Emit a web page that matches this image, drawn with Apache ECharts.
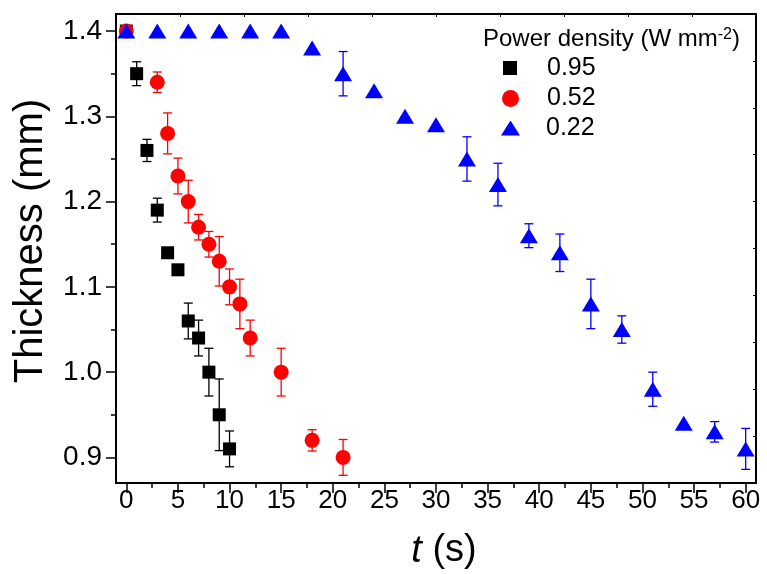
<!DOCTYPE html>
<html>
<head>
<meta charset="utf-8">
<script src="https://cdn.jsdelivr.net/npm/echarts@6/dist/echarts.min.js"></script>
<style>
html,body{margin:0;padding:0;background:#fff;}
#chart{width:767px;height:574px;}
</style>
</head>
<body>
<div id="chart"></div>
<script>
// ---- data ----
const seriesNames = ['0.95', '0.52', '0.22'];
const t095 = [0, 1, 2, 3, 4, 5, 6, 7, 8, 9, 10];
const y095 = [1.40, 1.35, 1.26, 1.19, 1.14, 1.12, 1.06, 1.04, 1.00, 0.95, 0.91];
const e095 = [0, 0.014, 0.013, 0.014, 0, 0, 0.021, 0.021, 0.028, 0.042, 0.021];

const t052 = [0, 3, 4, 5, 6, 7, 8, 9, 10, 11, 12, 15, 18, 21];
const y052 = [1.40, 1.34, 1.28, 1.23, 1.20, 1.17, 1.15, 1.13, 1.10, 1.08, 1.04, 1.00, 0.92, 0.90];
const e052 = [0, 0.012, 0.024, 0.021, 0.025, 0.015, 0.015, 0.029, 0.021, 0.029, 0.021, 0.028, 0.0125, 0.021];

const t022 = [0, 3, 6, 9, 12, 15, 18, 21, 24, 27, 30, 33, 36, 39, 42, 45, 48, 51, 54, 57, 60];
const y022 = [1.40, 1.40, 1.40, 1.40, 1.40, 1.40, 1.38, 1.35, 1.33, 1.30, 1.29, 1.25, 1.22, 1.16, 1.14, 1.08, 1.05, 0.98, 0.94, 0.93, 0.91];
const e022 = [0, 0, 0, 0, 0, 0, 0, 0.026, 0, 0, 0, 0.026, 0.025, 0.014, 0.022, 0.029, 0.016, 0.020, 0, 0.012, 0.024];

const xTickLabels = [0, 5, 10, 15, 20, 25, 30, 35, 40, 45, 50, 55, 60];
const xMinorTicks = [2.5, 7.5, 12.5, 17.5, 22.5, 27.5, 32.5, 37.5, 42.5, 47.5, 52.5, 57.5];
const yTickLabels = [0.9, 1.0, 1.1, 1.2, 1.3, 1.4];
const yMinorTicks = [0.95, 1.05, 1.15, 1.25, 1.35];

// ---- build ----
const FONT = '"Liberation Sans", Arial, Helvetica, sans-serif';
const colors = ['#000000', '#ff0000', '#0000ff'];
const symbols = ['rect', 'circle', 'triangle'];
const sizes = [13, 15, [18, 15]];
const ts = [t095, t052, t022], ys = [y095, y052, y022], es = [e095, e052, e022];

function pts(i) { return ts[i].map((t, k) => [t, ys[i][k]]); }
function errs(i) { return ts[i].map((t, k) => [t, ys[i][k], es[i][k]]).filter(d => d[2] > 0); }

function errRender(color) {
  return function (params, api) {
    const x = api.value(0), y = api.value(1), e = api.value(2);
    const top = api.coord([x, y + e]);
    const bot = api.coord([x, y - e]);
    const w = 4.5;
    const st = { stroke: color, lineWidth: 1.3 };
    return {
      type: 'group',
      children: [
        { type: 'line', shape: { x1: top[0], y1: top[1], x2: bot[0], y2: bot[1] }, style: st },
        { type: 'line', shape: { x1: top[0] - w, y1: top[1], x2: top[0] + w, y2: top[1] }, style: st },
        { type: 'line', shape: { x1: bot[0] - w, y1: bot[1], x2: bot[0] + w, y2: bot[1] }, style: st }
      ]
    };
  };
}

const series = [];
for (let i = 0; i < 3; i++) {
  series.push({
    name: seriesNames[i],
    type: 'scatter',
    data: pts(i),
    symbol: symbols[i],
    symbolSize: sizes[i],
    itemStyle: { color: colors[i], opacity: 1 },
    z: 3 + i * 2,
    xAxisIndex: 0, yAxisIndex: 0,
    animation: false
  });
  series.push({
    type: 'custom',
    data: errs(i),
    renderItem: errRender(colors[i]),
    z: 4 + i * 2,
    xAxisIndex: 0, yAxisIndex: 0,
    animation: false,
    silent: true
  });
}

const axisLineStyle = { color: '#000', width: 2 };
const legendText = { fontSize: 25, fontFamily: FONT, color: '#000', lineHeight: 30 };

const option = {
  animation: false,
  backgroundColor: '#fff',
  grid: { left: 116, right: 11, top: 14, bottom: 91, containLabel: false },
  xAxis: [
    {
      type: 'value', min: -1, max: 61, position: 'bottom',
      axisLine: { show: true, onZero: false, lineStyle: axisLineStyle },
      axisTick: { show: true, customValues: xTickLabels, length: 10, lineStyle: { color: '#000', width: 1.5 } },
      axisLabel: { customValues: xTickLabels, fontSize: 26, fontFamily: FONT, color: '#000', margin: 5 },
      splitLine: { show: false }
    },
    {
      type: 'value', min: 0, max: 10, interval: 1, position: 'top',
      axisLine: { show: true, onZero: false, lineStyle: axisLineStyle },
      axisTick: { show: true, inside: true, length: 3, lineStyle: { color: '#000', width: 1 } },
      axisLabel: { show: false },
      splitLine: { show: false }
    },
    {
      type: 'value', min: -1, max: 61, position: 'bottom',
      axisLine: { show: true, onZero: false, lineStyle: axisLineStyle },
      axisTick: { show: true, customValues: xMinorTicks, length: 5, lineStyle: { color: '#000', width: 1.5 } },
      axisLabel: { show: false },
      splitLine: { show: false }
    }
  ],
  yAxis: [
    {
      type: 'value', min: 0.87, max: 1.42, position: 'left',
      axisLine: { show: true, onZero: false, lineStyle: axisLineStyle },
      axisTick: { show: true, customValues: yTickLabels, length: 10, lineStyle: { color: '#000', width: 1.5 } },
      axisLabel: { customValues: yTickLabels, fontSize: 28, fontFamily: FONT, color: '#000', margin: 14,
        formatter: v => Number(v).toFixed(1) },
      splitLine: { show: false }
    },
    {
      type: 'value', min: 0, max: 10, interval: 1, position: 'right',
      axisLine: { show: true, onZero: false, lineStyle: axisLineStyle },
      axisTick: { show: true, inside: true, length: 3, lineStyle: { color: '#000', width: 1 } },
      axisLabel: { show: false },
      splitLine: { show: false }
    },
    {
      type: 'value', min: 0.87, max: 1.42, position: 'left',
      axisLine: { show: true, onZero: false, lineStyle: axisLineStyle },
      axisTick: { show: true, customValues: yMinorTicks, length: 5, lineStyle: { color: '#000', width: 1.5 } },
      axisLabel: { show: false },
      splitLine: { show: false }
    }
  ],
  legend: [
    { data: [seriesNames[0]], left: 503, top: 53, padding: 0, itemWidth: 14, itemHeight: 14,
      textStyle: Object.assign({}, legendText, { padding: [0, 0, 0, 25] }), selectedMode: false },
    { data: [seriesNames[1]], left: 502, top: 83.5, padding: 0, itemWidth: 17, itemHeight: 17,
      textStyle: Object.assign({}, legendText, { padding: [0, 0, 0, 23] }), selectedMode: false },
    { data: [seriesNames[2]], left: 501, top: 113, padding: 0, itemWidth: 19, itemHeight: 15,
      textStyle: Object.assign({}, legendText, { padding: [0, 0, 0, 21] }), selectedMode: false }
  ],
  graphic: [
    {
      type: 'text', left: 483, top: 27,
      style: {
        text: '{a|Power density (W mm}{s|-2}{a|)}',
        rich: {
          a: { fontSize: 24, fontFamily: FONT, fill: '#000' },
          s: { fontSize: 16, fontFamily: FONT, fill: '#000', verticalAlign: 'top' }
        }
      }
    },
    {
      type: 'text', x: 444, y: 551,
      style: {
        text: '{i|t} (s)',
        align: 'center', verticalAlign: 'middle',
        rich: {
          i: { fontSize: 38, fontFamily: FONT, fontStyle: 'italic', fill: '#000' }
        },
        fontSize: 38, fontFamily: FONT, fill: '#000'
      }
    },
    {
      type: 'text', x: 31, y: 241, rotation: Math.PI / 2,
      style: {
        text: 'Thickness (mm)',
        align: 'center', verticalAlign: 'middle',
        fontSize: 40, fontFamily: FONT, fill: '#000'
      }
    }
  ],
  series: series
};

const chart = echarts.init(document.getElementById('chart'), null, { renderer: 'canvas' });
chart.setOption(option);
</script>
</body>
</html>
